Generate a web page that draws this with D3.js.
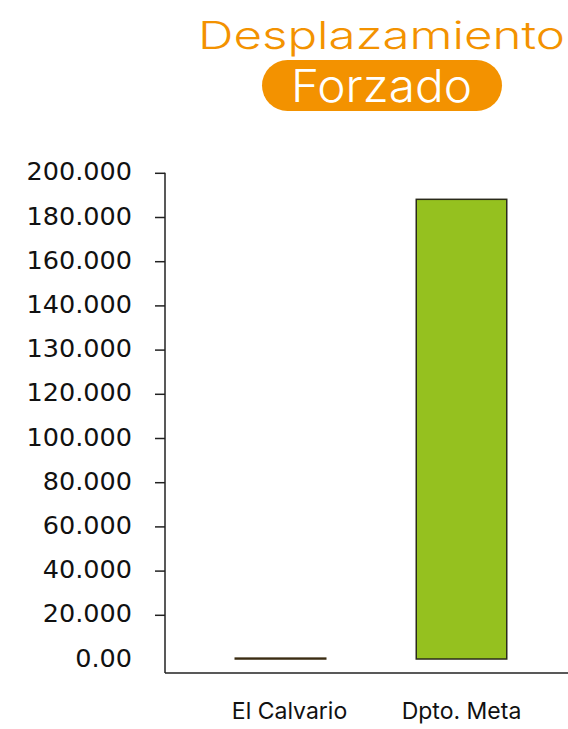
<!DOCTYPE html>
<html>
<head>
<meta charset="utf-8">
<script src="https://cdn.jsdelivr.net/npm/d3@7"></script>
<style>
	body { margin: 0; background: #fff; }
	svg { display: block; font-family: "Inter", "DejaVu Sans", sans-serif; }
</style>
</head>
<body>
<svg id="chart" width="568" height="729"></svg>
<script>
	'use strict';
	var categories = ['El Calvario', 'Dpto. Meta'];
	var values = [400, 188000];
	// the original axis is hand-labelled, evenly spaced (note the 130.000 step)
	var tickValues = [0, 20000, 40000, 60000, 80000, 100000, 120000, 130000, 140000, 160000, 180000, 200000];
	var tickLabels = ['0.00', '20.000', '40.000', '60.000', '80.000', '100.000', '120.000', '130.000', '140.000', '160.000', '180.000', '200.000'];
	var barColors = ['#3b2c12', '#95c11f'];
	var orange = '#f39200';

	var svg = d3.select('#chart');

	// title
	svg.append('text')
		.attr('x', 198).attr('y', 49)
		.attr('textLength', 367).attr('lengthAdjust', 'spacingAndGlyphs')
		.attr('font-size', 38)
		.attr('font-weight', 300)
		.attr('fill', orange)
		.text('Desplazamiento');

	svg.append('rect')
		.attr('x', 262).attr('y', 60)
		.attr('width', 240).attr('height', 51)
		.attr('rx', 25.5)
		.attr('fill', orange);

	svg.append('text')
		.attr('x', 291).attr('y', 102)
		.attr('textLength', 181).attr('lengthAdjust', 'spacingAndGlyphs')
		.attr('font-size', 45)
		.attr('font-weight', 300)
		.attr('fill', '#fff')
		.text('Forzado');

	var axisX = 165;
	var zeroY = 659;
	var step = 44.2;

	var y = d3.scaleLinear()
		.domain(tickValues)
		.range(tickValues.map(function(d, i) {
			return zeroY - i * step;
		}));

	var x = d3.scaleBand()
		.domain(categories)
		.range([190, 552])
		.paddingInner(0.5)
		.paddingOuter(0.25);

	var g = svg.append('g');

	// y axis
	var yAxis = d3.axisLeft(y)
		.tickValues(tickValues)
		.tickSize(10)
		.tickPadding(23)
		.tickFormat(function(d, i) {
			return tickLabels[i];
		});

	var ya = g.append('g')
		.attr('transform', 'translate(' + axisX + ',0)')
		.call(yAxis);
	ya.select('.domain').remove();
	ya.selectAll('.tick line')
		.attr('stroke', '#222')
		.attr('stroke-width', 1.5)
		.filter(function(d) { return d === 0; })
		.remove();
	ya.selectAll('.tick text')
		.attr('font-size', 25.5)
		.attr('fill', '#111')
		.attr('dy', '0.28em')
		.attr('font-family', '"DejaVu Sans", sans-serif');

	var baseY = 673;
	g.append('line')
		.attr('x1', axisX).attr('x2', axisX)
		.attr('y1', y(200000)).attr('y2', baseY)
		.attr('stroke', '#222').attr('stroke-width', 1.5);
	g.append('line')
		.attr('x1', axisX).attr('x2', 568)
		.attr('y1', baseY).attr('y2', baseY)
		.attr('stroke', '#222').attr('stroke-width', 1.5);

	// bars
	g.selectAll('.bar')
		.data(values)
		.enter().append('rect')
		.attr('class', 'bar')
		.attr('x', function(d, i) { return x(categories[i]); })
		.attr('width', x.bandwidth())
		.attr('y', function(d) { return y(d); })
		.attr('height', function(d) { return y(0) - y(d); })
		.attr('fill', function(d, i) { return barColors[i]; })
		.attr('stroke', function(d, i) { return i === 0 ? barColors[0] : '#2a2a1a'; })
		.attr('stroke-width', 1.5);

	// category labels
	g.selectAll('.cat')
		.data(categories)
		.enter().append('text')
		.attr('class', 'cat')
		.attr('x', function(d) { return x(d) + x.bandwidth() / 2 + (d === 'El Calvario' ? 9 : 0); })
		.attr('y', 719)
		.attr('text-anchor', 'middle')
		.attr('font-size', 23)
		.attr('fill', '#111')
		.text(function(d) { return d; });
</script>
</body>
</html>
